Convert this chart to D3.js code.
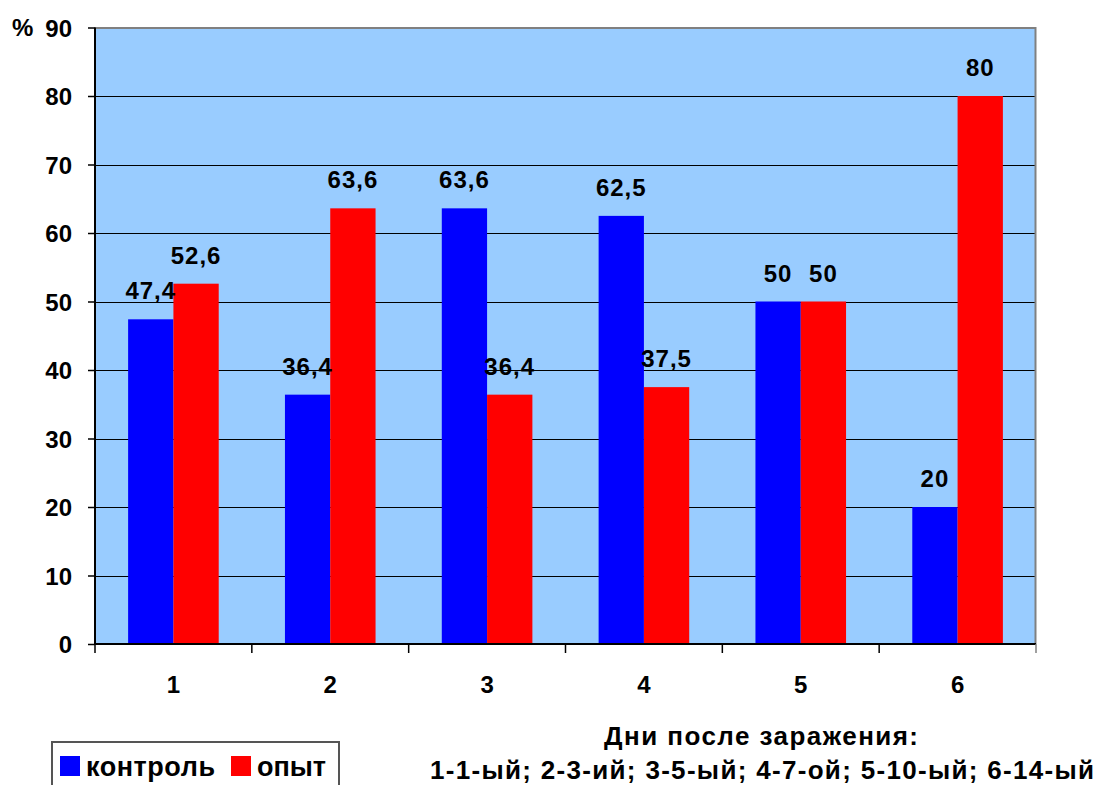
<!DOCTYPE html>
<html>
<head>
<meta charset="utf-8">
<script src="https://cdn.jsdelivr.net/npm/d3@7"></script>
<style>
  html, body { margin: 0; padding: 0; background: #ffffff; }
  svg { display: block; font-family: "Liberation Sans", Arial, sans-serif; font-weight: bold; }
</style>
</head>
<body>
<svg id="chart" width="1100" height="785"></svg>
<script>
// Categories (day groups) and the two series, in %
const categories = ["1", "2", "3", "4", "5", "6"];
const seriesNames = ["контроль", "опыт"];
const control = [47.4, 36.4, 63.6, 62.5, 50, 20];
const experiment = [52.6, 63.6, 36.4, 37.5, 50, 80];
const yTicks = [0, 10, 20, 30, 40, 50, 60, 70, 80, 90];
const yUnit = "%";
const seriesColors = ["#0000FF", "#FF0000"];
const axisTitleLines = ["Дни после заражения:", "1-1-ый; 2-3-ий; 3-5-ый; 4-7-ой; 5-10-ый; 6-14-ый"];

const svg = d3.select("#chart");

const plot = { left: 95, top: 27.5, right: 1036, bottom: 644 };

const x = d3.scaleBand().domain(categories).range([plot.left, plot.right]).padding(0);
const y = d3.scaleLinear().domain([0, 90]).range([plot.bottom, plot.top]);

// Two bars per category, side by side, centred in the band
const barW = 45.3;
const xs = d3.scaleBand().domain([0, 1]).range([0, barW * 2]);
const groupOffset = (x.bandwidth() - barW * 2) / 2;

// Plot background
svg.append("rect")
  .attr("x", plot.left).attr("y", plot.top)
  .attr("width", plot.right - plot.left).attr("height", plot.bottom - plot.top)
  .attr("fill", "#99CCFF");

// Horizontal gridlines
svg.append("g").selectAll("line")
  .data(yTicks.filter(d => d > 0 && d < 90))
  .join("line")
  .attr("x1", plot.left).attr("x2", plot.right)
  .attr("y1", d => Math.round(y(d)) + 0.5).attr("y2", d => Math.round(y(d)) + 0.5)
  .attr("stroke", "#000").attr("stroke-width", 1);

// Plot frame: grey top and right edges
svg.append("path")
  .attr("d", `M${plot.left},${plot.top + 0.5}H${plot.right - 0.5}V${plot.bottom}`)
  .attr("fill", "none").attr("stroke", "#808080").attr("stroke-width", 2);

// Bars
const series = [control, experiment];
series.forEach((vals, si) => {
  svg.append("g").selectAll("rect")
    .data(vals)
    .join("rect")
    .attr("x", (d, i) => x(categories[i]) + groupOffset + xs(si))
    .attr("y", d => y(d))
    .attr("width", xs.bandwidth())
    .attr("height", d => plot.bottom - y(d))
    .attr("fill", seriesColors[si]);
});

// Value labels above bars
const fmt = v => String(v).replace(".", ",");
series.forEach((vals, si) => {
  svg.append("g").selectAll("text")
    .data(vals)
    .join("text")
    .attr("x", (d, i) => x(categories[i]) + groupOffset + xs(si) + xs.bandwidth() / 2)
    .attr("y", d => y(d) - 20)
    .attr("text-anchor", "middle")
    .attr("font-size", 24)
    .attr("letter-spacing", 1)
    .attr("fill", "#000")
    .text(d => fmt(d));
});

// Y axis
const yAxis = svg.append("g")
  .attr("transform", `translate(${plot.left},0)`)
  .call(d3.axisLeft(y).tickValues(yTicks).tickSize(7).tickPadding(16));
yAxis.select(".domain").attr("stroke", "#000").attr("stroke-width", 2).attr("d", `M0,${plot.top}V${plot.bottom}`);
yAxis.selectAll(".tick line").attr("stroke", "#000").attr("stroke-width", 1.5);
yAxis.selectAll(".tick text")
  .attr("font-size", 24).attr("font-family", "Liberation Sans, Arial, sans-serif")
  .attr("font-weight", "bold").attr("fill", "#000").attr("dy", "0.36em");

// Unit sign next to the top tick label
svg.append("text")
  .attr("x", 12).attr("y", y(90))
  .attr("dy", "0.36em")
  .attr("font-size", 24)
  .attr("fill", "#000")
  .text(yUnit);

// X axis with ticks at category boundaries
const xAxisG = svg.append("g").attr("transform", `translate(0,${plot.bottom})`);
xAxisG.append("line")
  .attr("x1", plot.left).attr("x2", plot.right)
  .attr("stroke", "#000").attr("stroke-width", 2);
const boundaries = categories.map(c => x(c)).concat([plot.right]);
xAxisG.selectAll("line.tk")
  .data(boundaries)
  .join("line")
  .attr("class", "tk")
  .attr("x1", d => d).attr("x2", d => d)
  .attr("y1", 0).attr("y2", 9)
  .attr("stroke", (d, i) => i === boundaries.length - 1 ? "#808080" : "#000")
  .attr("stroke-width", 1.5);
xAxisG.selectAll("text")
  .data(categories)
  .join("text")
  .attr("x", d => x(d) + x.bandwidth() / 2)
  .attr("y", 49)
  .attr("text-anchor", "middle")
  .attr("font-size", 24)
  .attr("fill", "#000")
  .text(d => d);

// Axis title (two lines)
svg.append("text")
  .attr("x", 761).attr("y", 745)
  .attr("text-anchor", "middle")
  .attr("font-size", 26)
  .attr("textLength", 314).attr("lengthAdjust", "spacing")
  .attr("fill", "#000")
  .text(axisTitleLines[0]);
svg.append("text")
  .attr("x", 762).attr("y", 779)
  .attr("text-anchor", "middle")
  .attr("font-size", 26)
  .attr("textLength", 664).attr("lengthAdjust", "spacing")
  .attr("fill", "#000")
  .text(axisTitleLines[1]);

// Legend
const legend = svg.append("g");
legend.append("rect")
  .attr("x", 52).attr("y", 742).attr("width", 287).attr("height", 60)
  .attr("fill", "#fff").attr("stroke", "#555").attr("stroke-width", 2);
const legendItems = [
  { name: seriesNames[0], color: seriesColors[0], sx: 60, tx: 86, w: 129 },
  { name: seriesNames[1], color: seriesColors[1], sx: 231, tx: 257, w: 69 }
];
legendItems.forEach(it => {
  legend.append("rect")
    .attr("x", it.sx).attr("y", 756).attr("width", 20).attr("height", 20)
    .attr("fill", it.color);
  legend.append("text")
    .attr("x", it.tx).attr("y", 776)
    .attr("font-size", 27)
    .attr("textLength", it.w).attr("lengthAdjust", "spacing")
    .attr("fill", "#000")
    .text(it.name);
});
</script>
</body>
</html>
